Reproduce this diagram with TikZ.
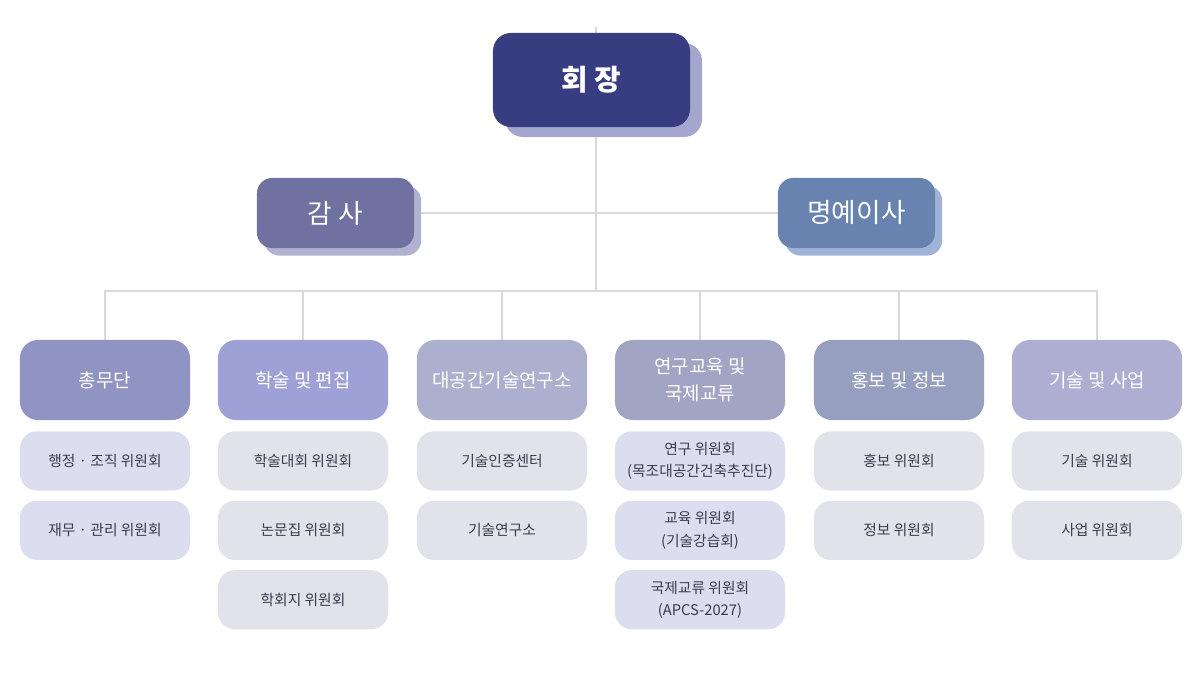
\documentclass[tikz,border=0pt]{standalone}
\usepackage{fontspec}
\setmainfont{Noto Sans CJK KR}
\usetikzlibrary{positioning, shadows, backgrounds}
\definecolor{orgChair}{HTML}{383C80}
\definecolor{orgChairShade}{HTML}{A5A6CD}
\definecolor{orgAudit}{HTML}{6F71A0}
\definecolor{orgAuditShade}{HTML}{B1B1D0}
\definecolor{orgHonor}{HTML}{6883B0}
\definecolor{orgHonorShade}{HTML}{9FB3D6}
\definecolor{orgDeptA}{HTML}{9094C2}
\definecolor{orgDeptB}{HTML}{9EA1D5}
\definecolor{orgDeptC}{HTML}{ADAFCE}
\definecolor{orgDeptD}{HTML}{A2A4C4}
\definecolor{orgDeptE}{HTML}{969FC0}
\definecolor{orgDeptF}{HTML}{ADAED2}
\definecolor{orgSubLav}{HTML}{DCDEF0}
\definecolor{orgSubGray}{HTML}{E2E2EB}
\definecolor{orgLine}{HTML}{D9D9D9}
\definecolor{orgText}{HTML}{3B3B4E}

\begin{document}
\begin{tikzpicture}[
    x=0.025cm, y=-0.025cm,
    orgLink/.style={draw=orgLine, line width=1.4pt},
    orgChairBox/.style={rectangle, rounded corners=0.45cm, fill=orgChair, text=white, align=center, font=\fontsize{20.5}{23}\selectfont\bfseries, minimum width=4.925cm, minimum height=2.35cm, drop shadow={shadow xshift=0.3cm, shadow yshift=-0.25cm, fill=orgChairShade, opacity=1}},
    orgTopBox/.style={rectangle, rounded corners=0.38cm, text=white, align=center, font=\fontsize{19}{22}\selectfont, minimum width=3.925cm, minimum height=1.75cm},
    orgDept/.style={rectangle, rounded corners=0.45cm, text=white, align=center, font=\fontsize{13.5}{19}\selectfont, minimum width=4.25cm, minimum height=2cm},
    orgSub/.style={rectangle, rounded corners=0.42cm, text=orgText, align=center, font=\fontsize{10.5}{16}\selectfont, minimum width=4.25cm, minimum height=1.48cm},
    node distance=0.24cm,
]
\useasboundingbox (0,0) rectangle (1200,674);
% top of the chart
\node[orgChairBox] (chair) at (591.5, 80) {회 장};
\node[orgTopBox, fill=orgAudit, drop shadow={shadow xshift=0.18cm, shadow yshift=-0.19cm, fill=orgAuditShade, opacity=1}] (audit) at (335.5, 213) {감 사};
\node[orgTopBox, fill=orgHonor, drop shadow={shadow xshift=0.18cm, shadow yshift=-0.19cm, fill=orgHonorShade, opacity=1}] (honor) at (856.5, 213) {명예이사};
\coordinate (top) at (596, 27);
\coordinate (bus) at (596, 291);
% departments
\node[orgDept, fill=orgDeptA] (dept1) at (105, 380) {총무단};
\node[orgDept, fill=orgDeptB] (dept2) at (303, 380) {학술 및 편집};
\node[orgDept, fill=orgDeptC] (dept3) at (502, 380) {대공간기술연구소};
\node[orgDept, fill=orgDeptD] (dept4) at (700, 380) {연구교육 및\\국제교류};
\node[orgDept, fill=orgDeptE] (dept5) at (899, 380) {홍보 및 정보};
\node[orgDept, fill=orgDeptF] (dept6) at (1097, 380) {기술 및 사업};
% committees
\node[orgSub, fill=orgSubLav, below=0.27cm of dept1] (sub11) {행정 · 조직 위원회};
\node[orgSub, fill=orgSubLav, below=of sub11] (sub12) {재무 · 관리 위원회};
\node[orgSub, fill=orgSubGray, below=0.27cm of dept2] (sub21) {학술대회 위원회};
\node[orgSub, fill=orgSubGray, below=of sub21] (sub22) {논문집 위원회};
\node[orgSub, fill=orgSubGray, below=of sub22] (sub23) {학회지 위원회};
\node[orgSub, fill=orgSubGray, below=0.27cm of dept3] (sub31) {기술인증센터};
\node[orgSub, fill=orgSubGray, below=of sub31] (sub32) {기술연구소};
\node[orgSub, fill=orgSubLav, below=0.27cm of dept4] (sub41) {연구 위원회\\(목조대공간건축추진단)};
\node[orgSub, fill=orgSubLav, below=of sub41] (sub42) {교육 위원회\\(기술강습회)};
\node[orgSub, fill=orgSubLav, below=of sub42] (sub43) {국제교류 위원회\\(APCS-2027)};
\node[orgSub, fill=orgSubGray, below=0.27cm of dept5] (sub51) {홍보 위원회};
\node[orgSub, fill=orgSubGray, below=of sub51] (sub52) {정보 위원회};
\node[orgSub, fill=orgSubGray, below=0.27cm of dept6] (sub61) {기술 위원회};
\node[orgSub, fill=orgSubGray, below=of sub61] (sub62) {사업 위원회};
% connectors
\begin{scope}[on background layer]
\draw[orgLink] (top) -- (bus);
\draw[orgLink] (audit.east) -- (honor.west);
\foreach \d in {dept1, dept2, dept3, dept4, dept5, dept6}
  \draw[orgLink] (bus) -| (\d.north);
\end{scope}
\end{tikzpicture}
\end{document}
